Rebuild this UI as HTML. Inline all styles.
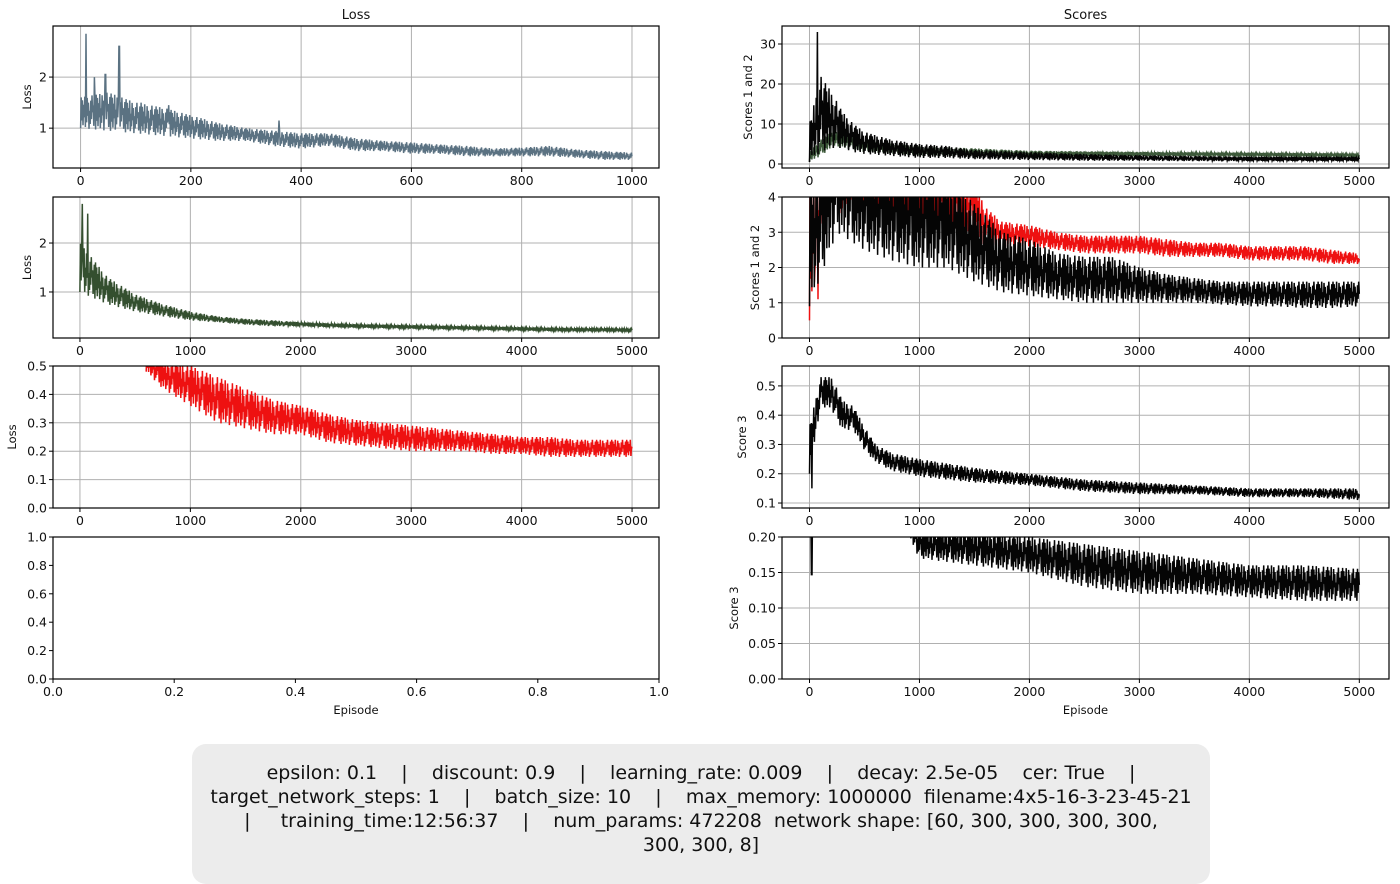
<!DOCTYPE html>
<html><head><meta charset="utf-8">
<style>
body{margin:0;background:#fff;width:1400px;height:860px;overflow:hidden;font-family:"DejaVu Sans","Liberation Sans",sans-serif;}
#info{position:absolute;left:192px;top:744px;width:1018px;height:140px;background:#ececec;border-radius:14px;text-align:center;font-size:19px;line-height:24px;padding-top:17px;box-sizing:border-box;color:#111;white-space:pre;}
</style></head><body>
<svg id="fig" width="1400" height="860" style="position:absolute;left:0;top:0"></svg>
<div id="info">epsilon: 0.1    |    discount: 0.9    |    learning_rate: 0.009    |    decay: 2.5e-05    cer: True    |
target_network_steps: 1    |    batch_size: 10    |    max_memory: 1000000  filename:4x5-16-3-23-45-21
|     training_time:12:56:37    |    num_params: 472208  network shape: [60, 300, 300, 300, 300,
300, 300, 8]</div>
<script>
// ---- data (hand-read envelopes: low / high per episode bin) ----
const loss1X=[0,50,100,150,200,250,300,350,400,450,500,550,600,650,700,750,800,850,900,950,1000];
const loss1Lo=[1.0,0.95,0.9,0.85,0.8,0.75,0.75,0.65,0.6,0.65,0.55,0.55,0.5,0.5,0.45,0.45,0.45,0.45,0.42,0.38,0.38];
const loss1Hi=[1.6,1.7,1.5,1.4,1.25,1.1,1.0,0.95,0.9,0.9,0.8,0.75,0.72,0.68,0.65,0.6,0.62,0.65,0.58,0.55,0.52];
const loss1SpikeX=[10,25,45,70,110,160,360];
const loss1SpikeY=[2.85,2.0,2.05,2.6,1.5,1.45,1.15];

const loss2X=[0,250,500,750,1000,1250,1500,1750,2000,2250,2500,2750,3000,3250,3500,3750,4000,4250,4500,4750,5000];
const loss2Lo=[1.0,0.75,0.6,0.5,0.42,0.38,0.33,0.3,0.3,0.28,0.27,0.26,0.25,0.24,0.23,0.22,0.21,0.2,0.2,0.2,0.19];
const loss2Hi=[2.0,1.3,0.95,0.75,0.6,0.5,0.45,0.42,0.38,0.36,0.34,0.33,0.32,0.31,0.3,0.29,0.28,0.27,0.26,0.26,0.25];
const loss2SpikeX=[20,70];
const loss2SpikeY=[2.8,2.6];

const loss3X=[600,750,1000,1250,1500,1750,2000,2250,2500,2750,3000,3250,3500,3750,4000,4250,4500,4750,5000];
const loss3Lo=[0.48,0.42,0.36,0.3,0.28,0.26,0.26,0.23,0.22,0.21,0.2,0.2,0.2,0.19,0.19,0.18,0.18,0.18,0.18];
const loss3Hi=[0.55,0.52,0.5,0.46,0.42,0.38,0.36,0.33,0.31,0.3,0.29,0.28,0.27,0.26,0.25,0.25,0.24,0.24,0.24];

const sc1BlackX=[0,100,200,300,400,500,750,1000,1250,1500,2000,2500,3000,3500,4000,4500,5000];
const sc1BlackLo=[0.5,3,4,4,3,2.5,2,1.5,1.5,1.2,1,0.8,0.8,0.7,0.7,0.7,0.7];
const sc1BlackHi=[10,22,18,13,10,8,6,5,4.5,3.5,3,2.5,2.2,2,1.8,1.8,1.8];
const sc1GreenX=[0,100,200,300,500,1000,2000,3000,4000,5000];
const sc1GreenLo=[0.5,2,4,4,3,2,2,2,2,1.8];
const sc1GreenHi=[3,6,8,8,6,4.5,3.3,3,2.8,2.6];
const sc1SpikeX=[70];
const sc1SpikeY=[33];

const sc2RedX=[0,150,1500,1600,1750,2000,2250,2500,2750,3000,3250,3500,3750,4000,4250,4500,4750,5000];
const sc2RedLo=[0.5,3.6,3.0,2.6,2.6,2.6,2.5,2.4,2.4,2.4,2.3,2.3,2.3,2.2,2.2,2.2,2.1,2.1];
const sc2RedHi=[4.5,5,4.5,3.7,3.3,3.2,3.0,2.9,2.9,2.9,2.8,2.7,2.7,2.6,2.6,2.6,2.5,2.4];
const sc2BlackX=[0,250,500,750,1000,1250,1500,1750,2000,2250,2500,2750,3000,3250,3500,3750,4000,4250,4500,4750,5000];
const sc2BlackLo=[0.9,3,2.5,2.2,2.0,2.0,1.6,1.3,1.2,1.1,1.0,1.0,1.0,1.0,1.0,0.95,0.9,0.9,0.85,0.85,0.9];
const sc2BlackHi=[4.5,6,5,5,4.8,4.6,3.8,3.0,2.8,2.4,2.3,2.3,2.0,1.8,1.7,1.6,1.6,1.6,1.6,1.6,1.6];
const sc2RedSpikeX=[50,80];
const sc2RedSpikeY=[2.0,1.1];

const sc3X=[0,100,200,300,400,500,600,750,1000,1500,2000,2500,3000,3500,4000,4500,5000];
const sc3Lo=[0.2,0.43,0.42,0.35,0.35,0.28,0.24,0.21,0.19,0.17,0.16,0.14,0.13,0.13,0.12,0.12,0.11];
const sc3Hi=[0.36,0.53,0.53,0.45,0.43,0.36,0.3,0.27,0.25,0.22,0.2,0.18,0.17,0.16,0.15,0.15,0.15];
const sc3SpikeX=[20];
const sc3SpikeY=[0.15];

const sc4X=[900,1000,1500,2000,2500,3000,3500,4000,4500,5000];
const sc4Lo=[0.2,0.17,0.16,0.15,0.13,0.12,0.12,0.115,0.11,0.11];
const sc4Hi=[0.25,0.21,0.21,0.2,0.19,0.18,0.17,0.16,0.16,0.155];
const sc4SpikeX=[20];
const sc4SpikeY=[0.147];

const ticks5k=[0,1000,2000,3000,4000,5000];
const tickLabels5k=["0","1000","2000","3000","4000","5000"];

// ---- drawing ----
const NS="http://www.w3.org/2000/svg";
const svg=document.getElementById('fig');
function mk(tag,attrs,parent){const e=document.createElementNS(NS,tag);for(const k in attrs)e.setAttribute(k,attrs[k]);(parent||svg).appendChild(e);return e;}
const PAT=[0,1,0.25,0.9,0.1,0.75,0.35,1,0.05,0.6,0.2,0.95,0.4,0.8,0,0.55,0.15,0.85,0.3,1,0.5,0.7,0.1,0.45,0.9];
let clipId=0;
function panel(p){
  const g=mk('g',{});
  
  
  const sx=v=>p.x0+(v-p.xmin)/(p.xmax-p.xmin)*(p.x1-p.x0);
  const sy=v=>p.y1-(v-p.ymin)/(p.ymax-p.ymin)*(p.y1-p.y0);
  p.xt.forEach((t,i)=>{const x=sx(t);
    if(!p.nogrid){const l=mk('line',{x1:x,x2:x,y1:p.y0,y2:p.y1,stroke:'#b0b0b0','stroke-width':1},g);
    }
    mk('line',{x1:x,x2:x,y1:p.y1,y2:p.y1+4,stroke:'#000'},g);
    const tx=mk('text',{x:x,y:p.y1+17,'text-anchor':'middle','font-size':12.5,fill:'#111'},g);
    tx.textContent=p.xl[i];
    });
  p.yt.forEach((t,i)=>{const y=sy(t);
    if(!p.nogrid){const l=mk('line',{x1:p.x0,x2:p.x1,y1:y,y2:y,stroke:'#b0b0b0','stroke-width':1},g);
    }
    mk('line',{x1:p.x0-4,x2:p.x0,y1:y,y2:y,stroke:'#000'},g);
    const tx=mk('text',{x:p.x0-6,y:y+4.5,'text-anchor':'end','font-size':12.5,fill:'#111'},g);
    tx.textContent=p.yl[i];
    });
  const id='c'+(clipId++);
  const cp=mk('clipPath',{id:id},g);mk('rect',{x:p.x0,y:p.y0,width:p.x1-p.x0,height:p.y1-p.y0},cp);
  const sg=mk('g',{'clip-path':'url(#'+id+')'},g);
  (p.series||[]).forEach(s=>{
    let pts=[];let k=0;
    for(let i=0;i<s.x.length-1;i++){
      const xa=sx(s.x[i]),xb=sx(s.x[i+1]);const n=Math.max(2,Math.round((xb-xa)/0.6));
      for(let j=0;j<n;j++){const f=j/n;const xv=s.x[i]+f*(s.x[i+1]-s.x[i]);
        const lo=s.lo[i]+f*(s.lo[i+1]-s.lo[i]),hi=s.hi[i]+f*(s.hi[i+1]-s.hi[i]);
        let t=PAT[k%PAT.length];k++;
        let yv=lo+t*(hi-lo);
        if(s.sx){s.sx.forEach((q,qi)=>{if(Math.abs(xv-q)<(s.x[i+1]-s.x[i])/n*0.6)yv=s.sy[qi];});}
        pts.push(sx(xv).toFixed(1)+','+sy(yv).toFixed(1));}
    }
    const L=s.x.length-1;pts.push(sx(s.x[L]).toFixed(1)+','+sy((s.lo[L]+s.hi[L])/2).toFixed(1));
    const pl=mk('polyline',{points:pts.join(' '),fill:'none',stroke:s.color,'stroke-width':1.5,'stroke-linejoin':'miter'},sg);
    
  });
  const fr=mk('rect',{x:p.x0,y:p.y0,width:p.x1-p.x0,height:p.y1-p.y0,fill:'none',stroke:'#000','stroke-width':1.2},g);
  
  if(p.ylabel){const cy=(p.y0+p.y1)/2;const t=mk('text',{x:p.ylx,y:cy,'text-anchor':'middle','font-size':11.5,fill:'#111',transform:'rotate(-90 '+p.ylx+' '+cy+')'},g);t.textContent=p.ylabel;
    }
  if(p.xlabel){const cx=(p.x0+p.x1)/2;const t=mk('text',{x:cx,y:p.y1+35,'text-anchor':'middle','font-size':11.5,fill:'#111'},g);t.textContent=p.xlabel;
    }
  if(p.title){const cx=(p.x0+p.x1)/2;const t=mk('text',{x:cx,y:p.y0-7,'text-anchor':'middle','font-size':13,fill:'#111'},g);t.textContent=p.title;
    }
}
const LX0=53,LX1=659,RX0=782,RX1=1389;
const lx5={xmin:-244,xmax:5244};
const rx5={xmin:-250,xmax:5270};
panel({name:'loss-panel-1',title:'Loss',x0:LX0,x1:LX1,y0:26,y1:168,xmin:-50,xmax:1049,ymin:0.22,ymax:3.0,
  xt:[0,200,400,600,800,1000],xl:["0","200","400","600","800","1000"],yt:[1,2],yl:["1","2"],ylabel:'Loss',ylx:31,
  series:[{name:'loss-line-1',color:'#5b7282',x:loss1X,lo:loss1Lo,hi:loss1Hi,sx:loss1SpikeX,sy:loss1SpikeY}]});
panel({name:'loss-panel-2',x0:LX0,x1:LX1,y0:197,y1:338,...lx5,ymin:0.06,ymax:2.94,
  xt:ticks5k,xl:tickLabels5k,yt:[1,2],yl:["1","2"],ylabel:'Loss',ylx:31,
  series:[{name:'loss-line-2',color:'#344f2f',x:loss2X,lo:loss2Lo,hi:loss2Hi,sx:loss2SpikeX,sy:loss2SpikeY}]});
panel({name:'loss-panel-3',x0:LX0,x1:LX1,y0:366,y1:508,...lx5,ymin:0,ymax:0.5,
  xt:ticks5k,xl:tickLabels5k,yt:[0,0.1,0.2,0.3,0.4,0.5],yl:["0.0","0.1","0.2","0.3","0.4","0.5"],ylabel:'Loss',ylx:16,
  series:[{name:'loss-line-3',color:'#ee1111',x:loss3X,lo:loss3Lo,hi:loss3Hi}]});
panel({name:'empty-panel',nogrid:true,x0:LX0,x1:LX1,y0:537,y1:679,xmin:0,xmax:1,ymin:0,ymax:1,
  xt:[0,0.2,0.4,0.6,0.8,1],xl:["0.0","0.2","0.4","0.6","0.8","1.0"],yt:[0,0.2,0.4,0.6,0.8,1],yl:["0.0","0.2","0.4","0.6","0.8","1.0"],xlabel:'Episode'});
panel({name:'scores-panel-1',title:'Scores',x0:RX0,x1:RX1,y0:26,y1:168,...rx5,ymin:-1,ymax:34.5,
  xt:ticks5k,xl:tickLabels5k,yt:[0,10,20,30],yl:["0","10","20","30"],ylabel:'Scores 1 and 2',ylx:752,
  series:[{name:'score2-line-green',color:'#3d5a3a',x:sc1GreenX,lo:sc1GreenLo,hi:sc1GreenHi},
          {name:'score1-line-black',color:'#050505',x:sc1BlackX,lo:sc1BlackLo,hi:sc1BlackHi,sx:sc1SpikeX,sy:sc1SpikeY}]});
panel({name:'scores-panel-2',x0:RX0,x1:RX1,y0:197,y1:338,...rx5,ymin:0,ymax:4,
  xt:ticks5k,xl:tickLabels5k,yt:[0,1,2,3,4],yl:["0","1","2","3","4"],ylabel:'Scores 1 and 2',ylx:759,
  series:[{name:'score2-line-red',color:'#ee1111',x:sc2RedX,lo:sc2RedLo,hi:sc2RedHi,sx:sc2RedSpikeX,sy:sc2RedSpikeY},
          {name:'score1-line-black',color:'#050505',x:sc2BlackX,lo:sc2BlackLo,hi:sc2BlackHi}]});
panel({name:'score3-panel-1',x0:RX0,x1:RX1,y0:366,y1:508,...rx5,ymin:0.083,ymax:0.568,
  xt:ticks5k,xl:tickLabels5k,yt:[0.1,0.2,0.3,0.4,0.5],yl:["0.1","0.2","0.3","0.4","0.5"],ylabel:'Score 3',ylx:746,
  series:[{name:'score3-line',color:'#050505',x:sc3X,lo:sc3Lo,hi:sc3Hi,sx:sc3SpikeX,sy:sc3SpikeY}]});
panel({name:'score3-panel-2',x0:RX0,x1:RX1,y0:537,y1:679,...rx5,ymin:0,ymax:0.2,
  xt:ticks5k,xl:tickLabels5k,yt:[0,0.05,0.1,0.15,0.2],yl:["0.00","0.05","0.10","0.15","0.20"],ylabel:'Score 3',ylx:738,xlabel:'Episode',
  series:[{name:'score3-line-zoomed',color:'#050505',x:sc4X,lo:sc4Lo,hi:sc4Hi},
          {name:'score3-early-spike',color:'#050505',x:[0,40],lo:[0.25,0.25],hi:[0.25,0.25],sx:sc4SpikeX,sy:sc4SpikeY}]});
</script>
</body></html>
